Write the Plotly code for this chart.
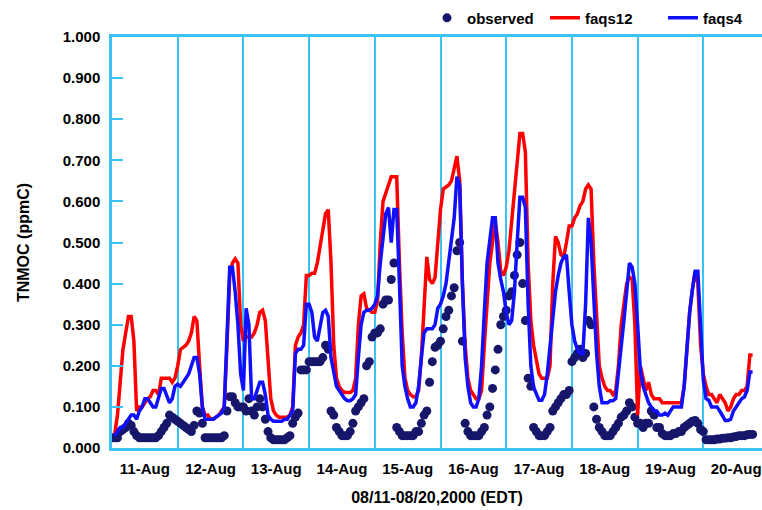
import plotly.graph_objects as go
import pandas as pd

START = "2000-08-11 00:00"

# hourly values from 08/11 00:00 EDT (h0 .. h234), one row per day
observed = [
    0.025, 0.025, 0.025, 0.04, 0.045, 0.05, 0.06, 0.055, 0.04, 0.03, 0.025, 0.025, 0.025, 0.025, 0.025, 0.025, 0.025, 0.03, 0.04, 0.05, 0.06, 0.08, 0.075, 0.07,
    0.065, 0.06, 0.055, 0.05, 0.045, 0.04, 0.055, 0.09, 0.085, 0.06, 0.025, 0.025, 0.025, 0.025, 0.025, 0.025, 0.025, 0.03, 0.09, 0.125, 0.125, 0.11, 0.10, 0.10,
    0.10, 0.09, 0.12, 0.09, 0.08, 0.10, 0.12, 0.10, 0.07, 0.04, 0.025, 0.02, 0.02, 0.02, 0.02, 0.02, 0.025, 0.03, 0.06, 0.075, 0.085, 0.19, 0.19, 0.19,
    0.21, 0.21, 0.21, 0.21, 0.21, 0.22, 0.25, 0.24, 0.09, 0.08, 0.05, 0.04, 0.03, 0.03, 0.03, 0.04, 0.06, 0.09, 0.10, 0.11, 0.12, 0.20, 0.21, 0.27,
    0.28, 0.28, 0.29, 0.35, 0.36, 0.36, 0.41, 0.45, 0.05, 0.04, 0.03, 0.03, 0.03, 0.03, 0.03, 0.04, 0.04, 0.06, 0.08, 0.09, 0.16, 0.21, 0.245, 0.25,
    0.26, 0.29, 0.32, 0.335, 0.37, 0.39, 0.48, 0.50, 0.26, 0.06, 0.04, 0.03, 0.03, 0.03, 0.03, 0.04, 0.05, 0.08, 0.10, 0.145, 0.19, 0.24, 0.30, 0.32,
    0.335, 0.37, 0.38, 0.42, 0.47, 0.50, 0.40, 0.31, 0.17, 0.15, 0.05, 0.04, 0.03, 0.03, 0.03, 0.04, 0.05, 0.09, 0.10, 0.11, 0.12, 0.13, 0.13, 0.14,
    0.21, 0.22, 0.23, 0.24, 0.22, 0.23, 0.31, 0.30, 0.10, 0.07, 0.05, 0.04, 0.03, 0.03, 0.03, 0.04, 0.05, 0.06, 0.075, 0.08, 0.09, 0.11, 0.10, 0.075,
    0.06, 0.06, 0.05, 0.06, 0.06, 0.09, 0.08, 0.05, 0.05, 0.035, 0.03, 0.03, 0.03, 0.035, 0.035, 0.04, 0.04, 0.05, 0.055, 0.06, 0.065, 0.067, 0.06, 0.045,
    0.04, 0.02, 0.02, 0.02, 0.02, 0.022, 0.022, 0.024, 0.024, 0.025, 0.025, 0.027, 0.028, 0.03, 0.03, 0.03, 0.032, 0.033, 0.033,
]

faqs12 = [
    None, 0.035, 0.08, 0.16, 0.24, 0.28, 0.32, 0.32, 0.26, 0.09, 0.10, 0.10, 0.11, 0.12, 0.125, 0.14, 0.14, 0.13, 0.17, 0.17, 0.17, 0.17, 0.16, 0.17,
    0.20, 0.24, 0.245, 0.25, 0.26, 0.28, 0.32, 0.31, 0.20, 0.10, 0.08, 0.08, 0.07, 0.07, 0.075, 0.08, 0.09, 0.10, 0.25, 0.42, 0.45, 0.46, 0.45, 0.30,
    0.26, 0.27, 0.27, 0.27, 0.28, 0.30, 0.33, 0.335, 0.31, 0.22, 0.12, 0.09, 0.08, 0.075, 0.075, 0.075, 0.075, 0.08, 0.10, 0.25, 0.27, 0.28, 0.30, 0.42,
    0.42, 0.425, 0.425, 0.45, 0.49, 0.53, 0.57, 0.58, 0.45, 0.25, 0.17, 0.15, 0.14, 0.135, 0.135, 0.135, 0.14, 0.17, 0.30, 0.37, 0.375, 0.34, 0.335, 0.33,
    0.33, 0.36, 0.50, 0.60, 0.62, 0.64, 0.66, 0.66, 0.66, 0.45, 0.28, 0.17, 0.14, 0.13, 0.125, 0.125, 0.14, 0.22, 0.35, 0.465, 0.41, 0.40, 0.415, 0.50,
    0.58, 0.63, 0.635, 0.64, 0.65, 0.68, 0.71, 0.65, 0.40, 0.25, 0.17, 0.14, 0.13, 0.12, 0.12, 0.14, 0.25, 0.34, 0.45, 0.50, 0.55, 0.50, 0.43, 0.42,
    0.44, 0.48, 0.55, 0.62, 0.70, 0.765, 0.765, 0.72, 0.45, 0.31, 0.25, 0.21, 0.18, 0.17, 0.17, 0.17, 0.20, 0.40, 0.515, 0.50, 0.47, 0.465, 0.50, 0.54,
    0.54, 0.56, 0.57, 0.59, 0.60, 0.63, 0.64, 0.63, 0.45, 0.31, 0.20, 0.17, 0.15, 0.14, 0.14, 0.13, 0.14, 0.20, 0.30, 0.35, 0.40, 0.416, 0.41, 0.30,
    0.08, 0.20, 0.17, 0.14, 0.16, 0.13, 0.12, 0.12, 0.12, 0.11, 0.11, 0.11, 0.11, 0.11, 0.11, 0.11, 0.11, 0.15, 0.25, 0.33, 0.385, 0.43, 0.40, 0.25,
    0.18, 0.15, 0.13, 0.13, 0.12, 0.11, 0.13, 0.12, 0.11, 0.09, 0.10, 0.12, 0.13, 0.13, 0.14, 0.14, 0.15, 0.226, 0.226,
]

faqs4 = [
    None, 0.03, 0.04, 0.05, 0.05, 0.06, 0.07, 0.08, 0.08, 0.07, 0.09, 0.10, 0.12, 0.12, 0.11, 0.10, 0.10, 0.12, 0.145, 0.145, 0.13, 0.11, 0.12, 0.15,
    0.155, 0.15, 0.16, 0.17, 0.18, 0.20, 0.22, 0.22, 0.18, 0.10, 0.07, 0.07, 0.07, 0.07, 0.075, 0.08, 0.085, 0.10, 0.25, 0.44, 0.44, 0.38, 0.30, 0.18,
    0.14, 0.34, 0.30, 0.12, 0.12, 0.14, 0.16, 0.16, 0.13, 0.08, 0.07, 0.065, 0.065, 0.065, 0.065, 0.07, 0.07, 0.08, 0.09, 0.23, 0.24, 0.24, 0.25, 0.35,
    0.35, 0.33, 0.27, 0.26, 0.30, 0.33, 0.335, 0.32, 0.22, 0.18, 0.15, 0.14, 0.13, 0.12, 0.115, 0.115, 0.12, 0.13, 0.22, 0.30, 0.33, 0.335, 0.335, 0.34,
    0.35, 0.37, 0.45, 0.52, 0.57, 0.585, 0.50, 0.58, 0.58, 0.40, 0.20, 0.15, 0.12, 0.10, 0.10, 0.11, 0.15, 0.22, 0.28, 0.29, 0.29, 0.29, 0.30, 0.34,
    0.35, 0.37, 0.40, 0.45, 0.50, 0.56, 0.66, 0.64, 0.40, 0.22, 0.15, 0.11, 0.10, 0.10, 0.12, 0.20, 0.33, 0.45, 0.505, 0.56, 0.56, 0.45, 0.41, 0.38,
    0.33, 0.30, 0.31, 0.38, 0.50, 0.61, 0.61, 0.585, 0.35, 0.20, 0.148, 0.13, 0.116, 0.116, 0.13, 0.18, 0.25, 0.32, 0.38, 0.42, 0.45, 0.465, 0.47, 0.38,
    0.30, 0.26, 0.24, 0.23, 0.23, 0.35, 0.56, 0.50, 0.35, 0.23, 0.15, 0.11, 0.11, 0.11, 0.115, 0.115, 0.12, 0.18, 0.25, 0.31, 0.38, 0.45, 0.44, 0.40,
    0.30, 0.19, 0.15, 0.13, 0.11, 0.10, 0.09, 0.09, 0.08, 0.08, 0.085, 0.08, 0.09, 0.10, 0.10, 0.10, 0.10, 0.15, 0.25, 0.33, 0.385, 0.43, 0.43, 0.30,
    0.165, 0.12, 0.116, 0.10, 0.10, 0.10, 0.09, 0.08, 0.067, 0.067, 0.07, 0.09, 0.10, 0.11, 0.12, 0.124, 0.14, 0.185, 0.185,
]

times = pd.date_range(START, periods=len(observed), freq="h")

CYAN = "#3cc3f5"
FONT = dict(family="Liberation Sans, Arial, sans-serif", color="black", weight="bold")

fig = go.Figure()
fig.add_trace(go.Scatter(x=times, y=observed, mode="markers", name="observed",
                         marker=dict(color="#16166b", size=9), legendwidth=73))
fig.add_trace(go.Scatter(x=times, y=faqs12, mode="lines", name="faqs12",
                         line=dict(color="#ff0000", width=3.5), legendwidth=73))
fig.add_trace(go.Scatter(x=times, y=faqs4, mode="lines", name="faqs4",
                         line=dict(color="#1010ff", width=3.5)))

fig.update_layout(
    width=762, height=510,
    margin=dict(l=112, r=0, t=37, b=62),
    paper_bgcolor="white", plot_bgcolor="white",
    font=dict(**FONT, size=15),
    showlegend=True,
    legend=dict(orientation="h", x=0.4846, xanchor="left", y=1.046, yanchor="middle",
                font=dict(**FONT, size=15), bgcolor="rgba(0,0,0,0)",
                itemwidth=30, tracegroupgap=0),
    xaxis=dict(
        type="date",
        range=["2000-08-11 00:00", "2000-08-20 21:26"],
        tick0="2000-08-11 00:00", dtick=86400000,
        ticklabelmode="period", tickformat="%d-%b",
        ticks="", showgrid=True, gridcolor=CYAN, gridwidth=1.5,
        showline=True, linecolor=CYAN, linewidth=2.5, mirror=True,
        zeroline=False,
        tickfont=dict(**FONT, size=15), ticklabelstandoff=5,
        title=dict(text="08/11-08/20,2000 (EDT)", font=dict(**FONT, size=16), standoff=17),
    ),
    yaxis=dict(
        range=[0, 1], tick0=0, dtick=0.1, tickformat=".3f",
        ticks="inside", ticklen=11, tickwidth=2, tickcolor=CYAN,
        showgrid=False, zeroline=False,
        showline=True, linecolor=CYAN, linewidth=2.5,
        tickfont=dict(**FONT, size=15), ticklabelstandoff=6,
        title=dict(text="TNMOC (ppmC)", font=dict(**FONT, size=16), standoff=30),
    ),
)

fig.write_html("out.html")
